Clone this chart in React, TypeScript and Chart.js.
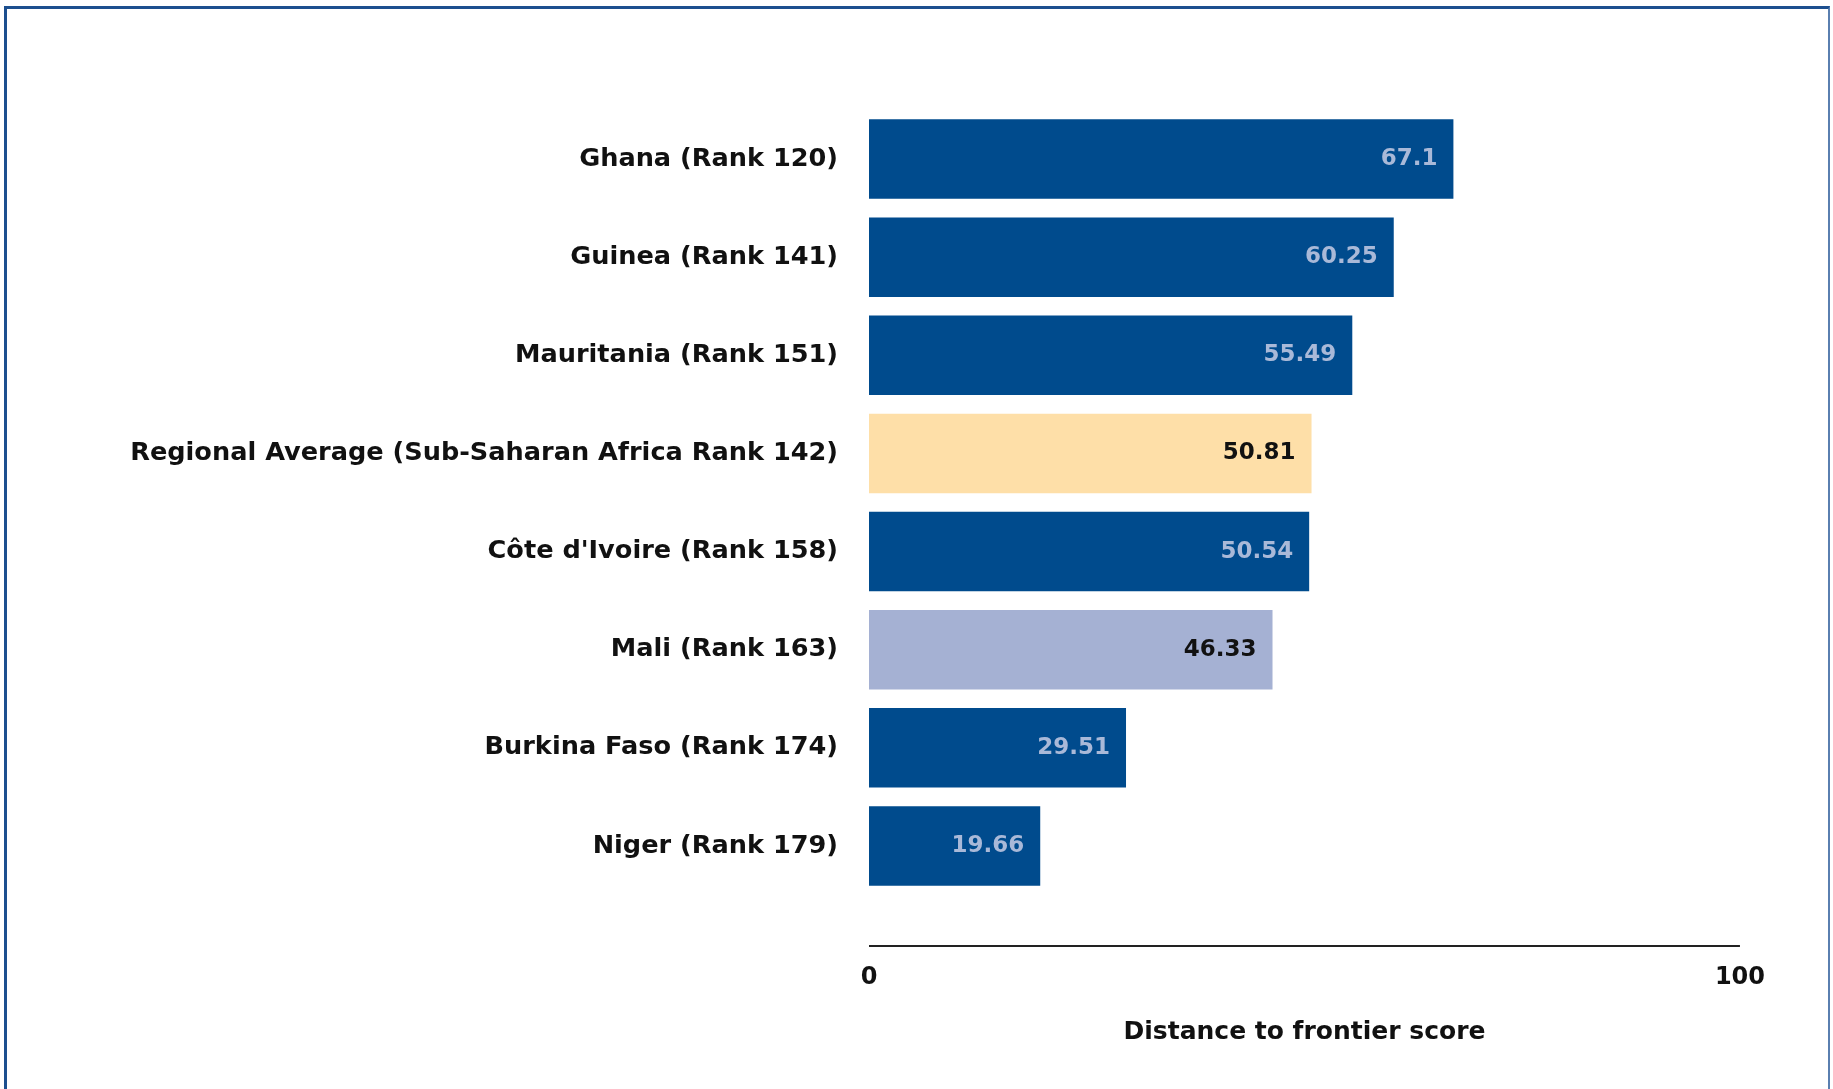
import React, { useEffect, useRef } from "react";
import { Chart, registerables } from "chart.js";

Chart.register(...registerables);

const categories = [
  "Ghana (Rank 120)",
  "Guinea (Rank 141)",
  "Mauritania (Rank 151)",
  "Regional Average (Sub-Saharan Africa Rank 142)",
  "Côte d'Ivoire (Rank 158)",
  "Mali (Rank 163)",
  "Burkina Faso (Rank 174)",
  "Niger (Rank 179)",
];
const scores = [67.1, 60.25, 55.49, 50.81, 50.54, 46.33, 29.51, 19.66];
const valueLabels = ["67.1", "60.25", "55.49", "50.81", "50.54", "46.33", "29.51", "19.66"];
const xTickValues = [0, 100];
const axisTitle = "Distance to frontier score";

const DARK = "#004b8d";
const barColors = [DARK, DARK, DARK, "#fedfa8", DARK, "#a5b1d3", DARK, DARK];
const labelColors = ["#a9b9d8", "#a9b9d8", "#a9b9d8", "#111111", "#a9b9d8", "#111111", "#a9b9d8", "#a9b9d8"];

const FONT_FAMILY = '"DejaVu Sans", Verdana, sans-serif';

const extrasPlugin = {
  id: "extras",
  afterDatasetsDraw(chart: any) {
    const ctx = chart.ctx;
    const meta = chart.getDatasetMeta(0);
    ctx.save();
    ctx.font = `bold 23px ${FONT_FAMILY}`;
    ctx.textAlign = "right";
    ctx.textBaseline = "middle";
    meta.data.forEach((bar: any, i: number) => {
      ctx.fillStyle = labelColors[i];
      ctx.fillText(valueLabels[i], bar.x - 16, bar.y);
    });
    const xs = chart.scales.x;
    const y = chart.chartArea.bottom + 51;
    ctx.strokeStyle = "#222222";
    ctx.lineWidth = 2;
    ctx.beginPath();
    ctx.moveTo(xs.left, y);
    ctx.lineTo(xs.right, y);
    ctx.stroke();
    ctx.restore();
  },
};

export default function App() {
  const canvasRef = useRef<HTMLCanvasElement | null>(null);

  useEffect(() => {
    if (!canvasRef.current) return;
    const chart = new Chart(canvasRef.current, {
      type: "bar",
      data: {
        labels: categories,
        datasets: [
          {
            data: scores,
            backgroundColor: barColors,
            borderWidth: 0,
            barPercentage: 0.81,
            categoryPercentage: 1,
          },
        ],
      },
      options: {
        indexAxis: "y",
        responsive: false,
        animation: false,
        devicePixelRatio: 1,
        layout: { padding: { top: 110, right: 92, left: 0, bottom: 0 } },
        plugins: {
          legend: { display: false },
          tooltip: { enabled: false },
        },
        scales: {
          x: {
            type: "linear",
            min: 0,
            max: 100,
            afterBuildTicks: (scale: any) => {
              scale.ticks = xTickValues.map((v) => ({ value: v }));
            },
            afterFit: (scale: any) => {
              scale.height = 194;
            },
            grid: { display: false, drawTicks: false },
            border: { display: false },
            ticks: {
              padding: 68,
              color: "#111111",
              font: { family: FONT_FAMILY, size: 24, weight: "bold" },
              maxRotation: 0,
            },
            title: {
              display: true,
              text: axisTitle,
              color: "#111111",
              font: { family: FONT_FAMILY, size: 25, weight: "bold" },
              padding: { top: 0, bottom: 42 },
            },
          },
          y: {
            type: "category",
            afterFit: (scale: any) => {
              scale.width = 869;
            },
            grid: { display: false, drawTicks: false },
            border: { display: false },
            ticks: {
              padding: 31,
              color: "#111111",
              font: { family: FONT_FAMILY, size: 25.6, weight: "bold" },
            },
          },
        },
      } as any,
      plugins: [extrasPlugin],
    });
    return () => chart.destroy();
  }, []);

  return (
    <div style={{ position: "fixed", left: 0, top: 0, width: 1833, height: 1089, background: "#ffffff", overflow: "hidden" }}>
      <div
        style={{
          position: "absolute",
          left: 4,
          top: 6,
          width: 1821,
          height: 1120,
          borderLeft: "3px solid #1c4f8f",
          borderTop: "3px solid #1c4f8f",
          borderRight: "2px solid #5a7fb0",
        }}
      />
      <canvas
        ref={canvasRef}
        width={1833}
        height={1089}
        style={{ position: "absolute", left: 0, top: 0, width: 1833, height: 1089 }}
      />
    </div>
  );
}
